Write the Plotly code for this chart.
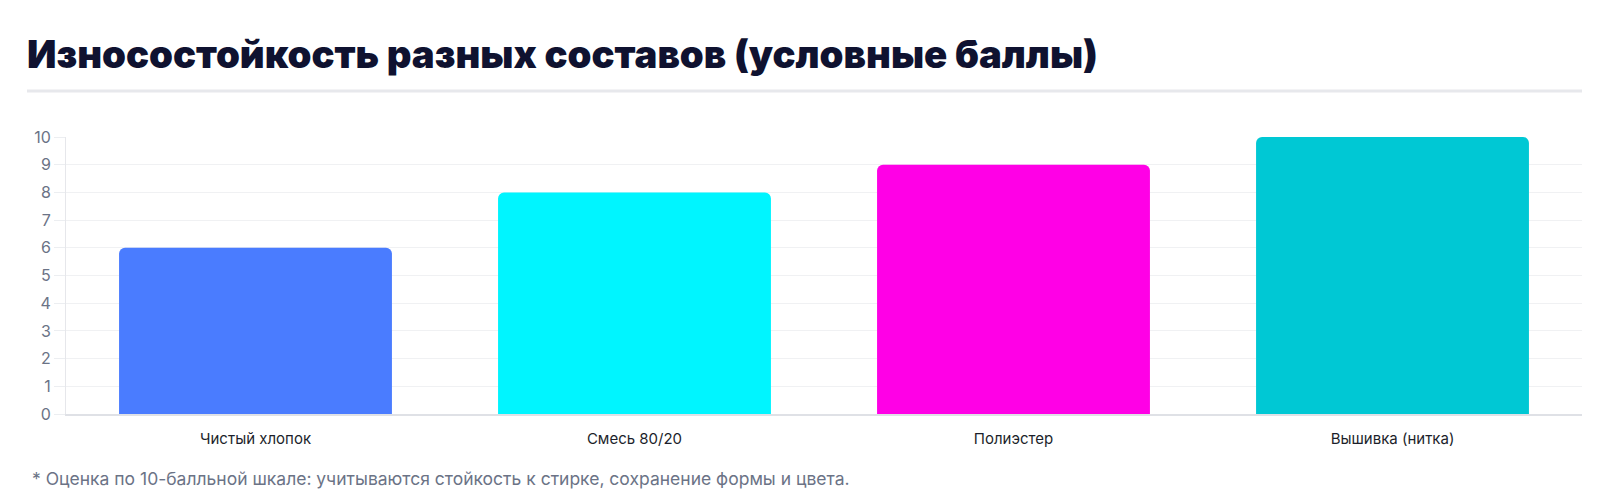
import plotly.graph_objects as go

# data
categories = ['Чистый хлопок', 'Смесь 80/20', 'Полиэстер', 'Вышивка (нитка)']
scores = [6, 8, 9, 10]
bar_colors = ['#4a7cff', '#00f5ff', '#ff00e6', '#00c8d4']
y_ticks = list(range(0, 11))

title_text = 'Износостойкость разных составов (условные баллы)'
note_text = '* Оценка по 10-балльной шкале: учитываются стойкость к стирке, сохранение формы и цвета.'

fig = go.Figure()

fig.add_trace(go.Bar(
    x=categories, y=scores,
    marker=dict(color=bar_colors, line=dict(width=0)),
    hoverinfo='x+y'))

fig.update_layout(
    width=1600, height=503,
    margin=dict(l=58, r=26, t=129, b=97),
    paper_bgcolor='white', plot_bgcolor='white',
    showlegend=False,
    bargap=0.28,
    barcornerradius=6,
    font=dict(family='Inter, Roboto, sans-serif'),
    title=dict(text=title_text, xref='container', yref='container',
               x=19 / 1600, xanchor='left', y=1 - 47 / 503, yanchor='middle',
               font=dict(family='Inter', size=38.3, weight=900, color='#0f1230')),
)

fig.update_yaxes(
    range=[0, 10], tickvals=y_ticks,
    showgrid=True, gridcolor='#f0f1f3', gridwidth=1,
    showline=True, linecolor='#e6e7eb', linewidth=1,
    ticks='outside', ticklen=11, tickcolor='#eceef1',
    tickfont=dict(size=16, color='#6b7386'),
    zeroline=False, fixedrange=True)

fig.update_xaxes(
    showgrid=False,
    showline=True, linecolor='#dfe1e6', linewidth=2,
    ticks='', ticklabelstandoff=10,
    tickfont=dict(size=15, color='#1c1f2b'),
    fixedrange=True)

# line under the title
fig.add_shape(type='line', xref='paper', yref='paper',
              x0=(19 - 58) / 1516, x1=1.0, y0=(406 - 83) / 277, y1=(406 - 83) / 277,
              line=dict(color='#e7e8ec', width=3))

fig.add_annotation(text=note_text, xref='paper', yref='paper',
                   x=(22 - 58) / 1516, xanchor='left',
                   y=-(470 - 406) / 277, yanchor='middle',
                   showarrow=False,
                   font=dict(size=17.5, color='#6b7386'))

fig.write_html('out.html')
